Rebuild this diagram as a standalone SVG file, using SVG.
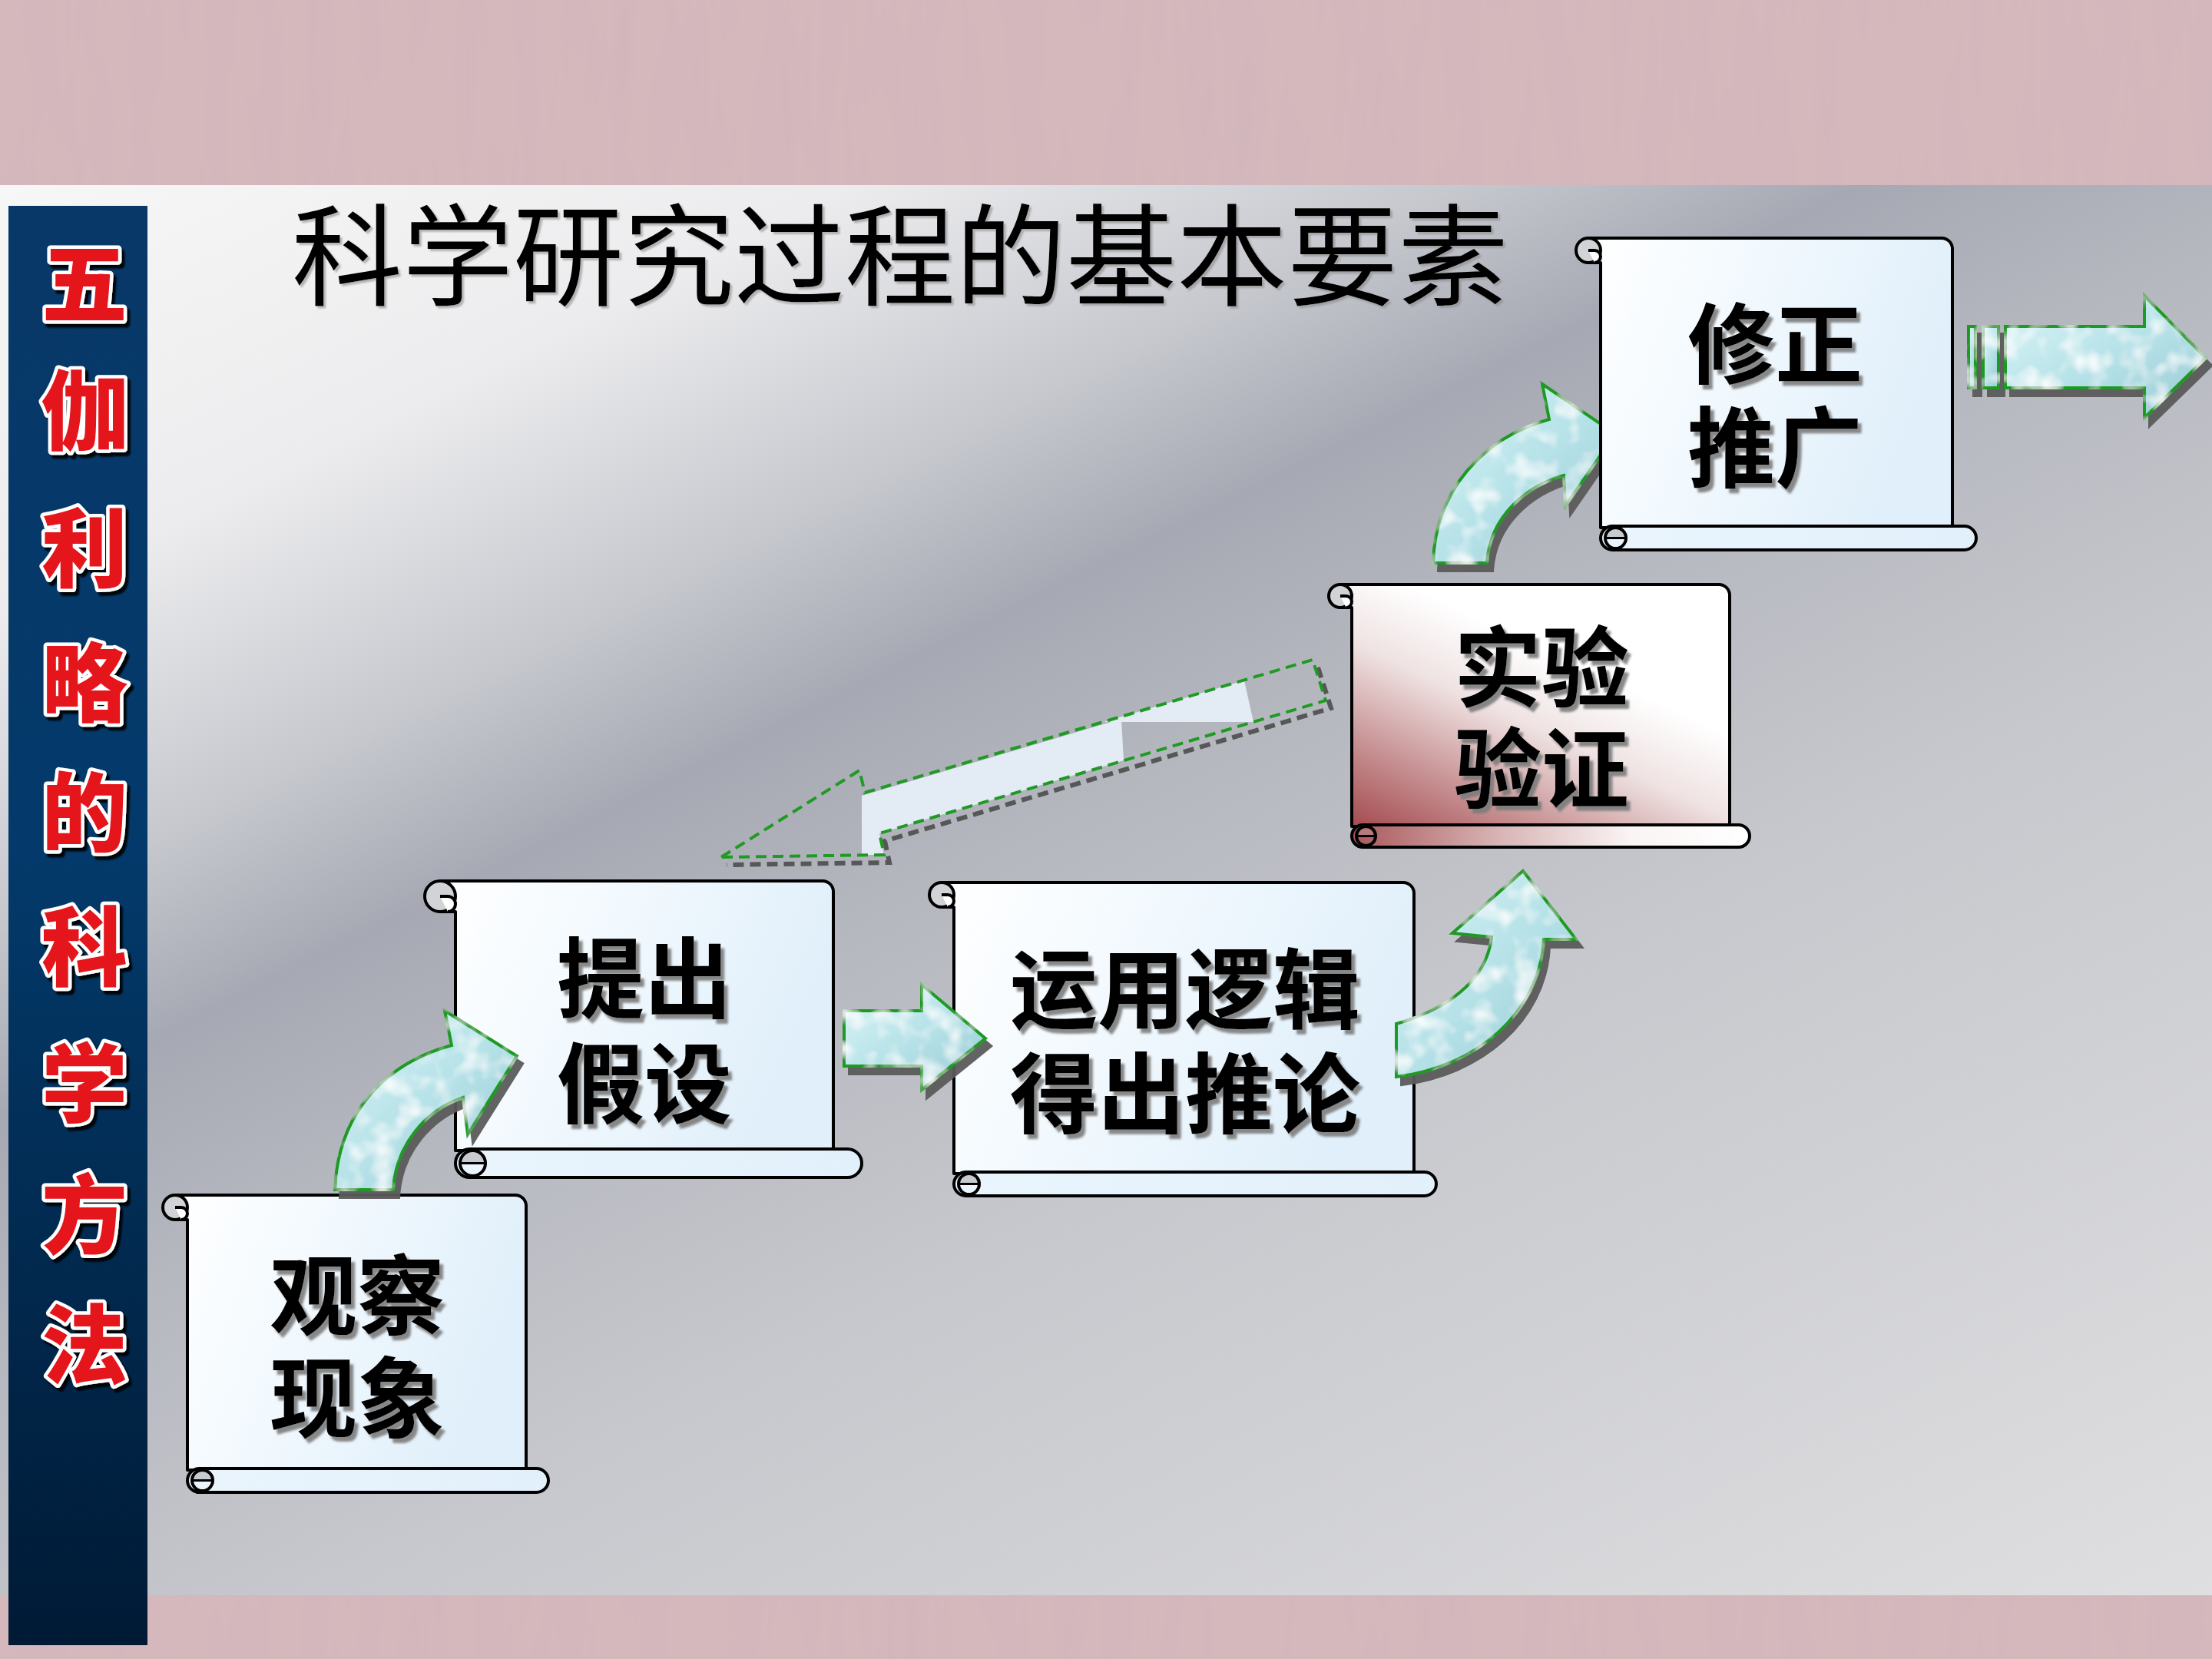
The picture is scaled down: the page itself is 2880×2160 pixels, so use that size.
<svg xmlns="http://www.w3.org/2000/svg" width="2880" height="2160" viewBox="0 0 2880 2160">
<defs>
<style>
.scroll{stroke:#000;stroke-width:4;stroke-linejoin:round}
.curl{fill:#d2d3d6;stroke:#000;stroke-width:4}
.hook{fill:#fff;stroke:#000;stroke-width:4}
.rollcurl{fill:none;stroke:#000;stroke-width:4}
.rollgray{fill:#c7cbd0;stroke:#000;stroke-width:3}
.ntext{font-family:"Noto Sans CJK SC","Noto Sans CJK TC",sans-serif;font-weight:700;font-size:114px;fill:#000;text-anchor:middle;filter:url(#tsh)}
.bartext{font-family:"Noto Sans CJK SC","Noto Sans CJK JP",sans-serif;font-weight:900;font-size:112px;fill:#e4121c;stroke:#fff;stroke-width:9;stroke-linejoin:round;paint-order:stroke;text-anchor:middle;filter:url(#barsh)}
.arr{fill:url(#arrgrad);stroke:#1f9a22;stroke-width:4;stroke-linejoin:miter;filter:url(#arrfx)}
</style>
<linearGradient id="bg" gradientUnits="userSpaceOnUse" x1="0" y1="240" x2="1312" y2="2864">
<stop offset="0" stop-color="#f7f7f7"/>
<stop offset="0.17" stop-color="#ececee"/>
<stop offset="0.29" stop-color="#c6c8ce"/>
<stop offset="0.37" stop-color="#a6a9b3"/>
<stop offset="0.46" stop-color="#b5b7bf"/>
<stop offset="0.62" stop-color="#c7c8cd"/>
<stop offset="1" stop-color="#dfdfe1"/>
</linearGradient>
<linearGradient id="bar" x1="0" y1="0" x2="0" y2="1">
<stop offset="0" stop-color="#083868"/>
<stop offset="0.45" stop-color="#033a6b"/>
<stop offset="1" stop-color="#001a35"/>
</linearGradient>
<linearGradient id="paper" x1="0" y1="0" x2="1" y2="0.3">
<stop offset="0" stop-color="#ffffff"/>
<stop offset="0.45" stop-color="#f2f9fe"/>
<stop offset="1" stop-color="#e0effa"/>
</linearGradient>
<linearGradient id="roll" x1="0" y1="0" x2="1" y2="0">
<stop offset="0" stop-color="#eaf5fd"/>
<stop offset="1" stop-color="#e2f0fb"/>
</linearGradient>
<linearGradient id="redpaper" x1="0" y1="1" x2="0.75" y2="0">
<stop offset="0" stop-color="#a2474b"/>
<stop offset="0.25" stop-color="#c89395"/>
<stop offset="0.5" stop-color="#efe2e2"/>
<stop offset="0.72" stop-color="#ffffff"/>
<stop offset="1" stop-color="#ffffff"/>
</linearGradient>
<linearGradient id="redroll" x1="0" y1="0" x2="1" y2="0">
<stop offset="0" stop-color="#a9585b"/>
<stop offset="0.35" stop-color="#d6b0b1"/>
<stop offset="0.7" stop-color="#faf4f4"/>
<stop offset="1" stop-color="#ffffff"/>
</linearGradient>
<linearGradient id="arrgrad" x1="0" y1="0" x2="1" y2="1">
<stop offset="0" stop-color="#dcf5f8"/>
<stop offset="0.5" stop-color="#b6e2e8"/>
<stop offset="1" stop-color="#9bcbd6"/>
</linearGradient>
<filter id="tsh" x="-10%" y="-20%" width="130%" height="150%">
<feDropShadow dx="5" dy="6" stdDeviation="1.5" flood-color="#7c7c7c" flood-opacity="0.9"/>
</filter>
<filter id="titlesh" x="-5%" y="-20%" width="110%" height="150%">
<feDropShadow dx="3" dy="3" stdDeviation="1" flood-color="#8a8a8a" flood-opacity="0.6"/>
</filter>
<filter id="barsh" x="-20%" y="-20%" width="150%" height="150%">
<feDropShadow dx="4" dy="5" stdDeviation="1.2" flood-color="#000" flood-opacity="0.9"/>
</filter>
<filter id="arrfx" x="-10%" y="-10%" width="130%" height="140%">
<feOffset in="SourceAlpha" dx="7" dy="10" result="o"/>
<feFlood flood-color="#5a5a5a" flood-opacity="0.95"/>
<feComposite in2="o" operator="in" result="sh"/>
<feTurbulence type="fractalNoise" baseFrequency="0.035" numOctaves="2" seed="4" result="n"/>
<feColorMatrix in="n" type="matrix" values="0 0 0 0 1  0 0 0 0 1  0 0 0 0 1  0 0 0 2.2 -1.0" result="w"/>
<feComposite in="w" in2="SourceAlpha" operator="in" result="wt"/>
<feMerge><feMergeNode in="sh"/><feMergeNode in="SourceGraphic"/><feMergeNode in="wt"/></feMerge>
</filter>
<filter id="grain" x="0" y="0" width="100%" height="100%">
<feTurbulence type="fractalNoise" baseFrequency="0.03 0.004" numOctaves="3" seed="9"/>
<feColorMatrix type="matrix" values="0 0 0 0 0.6  0 0 0 0 0.45  0 0 0 0 0.5  0.8 0 0 0 -0.3"/>
</filter>
</defs>

<!-- background -->
<rect x="0" y="0" width="2880" height="2160" fill="#d5b8bc"/>
<rect x="0" y="0" width="2880" height="241" filter="url(#grain)"/>
<rect x="0" y="2077" width="2880" height="83" filter="url(#grain)"/>
<rect x="0" y="241" width="2880" height="1836" fill="url(#bg)"/>

<!-- left bar -->
<g id="sidebar">
<rect x="11" y="268" width="181" height="1874" fill="url(#bar)"/>
<text class="bartext" x="110" y="411">五</text>
<text class="bartext" x="110" y="577">伽</text>
<text class="bartext" x="110" y="756">利</text>
<text class="bartext" x="110" y="931">略</text>
<text class="bartext" x="110" y="1100">的</text>
<text class="bartext" x="110" y="1275">科</text>
<text class="bartext" x="110" y="1453">学</text>
<text class="bartext" x="110" y="1624">方</text>
<text class="bartext" x="110" y="1793">法</text>
</g>

<g id="title">
<text x="380" y="387" font-family="Noto Sans CJK SC, Noto Sans CJK TC, sans-serif" font-size="144" font-weight="400" fill="#000" filter="url(#titlesh)">科学研究过程的基本要素</text>
</g>

<!-- node 1 -->
<g id="node-observe">
<path class="scroll" fill="url(#paper)" d="M 228 1556 H 671 A 14 14 0 0 1 685 1570 V 1914 H 244 V 1588 H 228 Z"/>
<circle class="curl" cx="228" cy="1572" r="16"/>
<path class="hook" d="M 228 1572 H 236 A 8 8 0 0 1 236 1588"/>
<rect class="scroll" fill="url(#roll)" x="244" y="1912" width="470" height="31" rx="15.5"/>
<path class="rollgray" d="M 250 1927.5 A 13.5 13.5 0 0 1 277 1927.5 Z"/>
<circle class="rollcurl" cx="263.5" cy="1927.5" r="13.5"/>
<text class="ntext" x="465" y="1729">观察<tspan x="465" dy="133">现象</tspan></text>
</g>

<!-- node 2 -->
<g id="node-hypothesis">
<path class="scroll" fill="url(#paper)" d="M 573 1147 H 1071 A 14 14 0 0 1 1085 1161 V 1498 H 593 V 1187 H 573 Z"/>
<circle class="curl" cx="573" cy="1167" r="20"/>
<path class="hook" d="M 573 1167 H 583 A 10 10 0 0 1 583 1187"/>
<rect class="scroll" fill="url(#roll)" x="593" y="1496" width="529" height="37" rx="18.5"/>
<path class="rollgray" d="M 599 1514.5 A 16.5 16.5 0 0 1 632 1514.5 Z"/>
<circle class="rollcurl" cx="615.5" cy="1514.5" r="16.5"/>
<text class="ntext" x="839" y="1316">提出<tspan x="839" dy="137">假设</tspan></text>
</g>

<!-- node 3 -->
<g id="node-deduce">
<path class="scroll" fill="url(#paper)" d="M 1226 1149 H 1827 A 14 14 0 0 1 1841 1163 V 1528 H 1242 V 1181 H 1226 Z"/>
<circle class="curl" cx="1226" cy="1165" r="16"/>
<path class="hook" d="M 1226 1165 H 1234 A 8 8 0 0 1 1234 1181"/>
<rect class="scroll" fill="url(#roll)" x="1242" y="1526" width="628" height="31" rx="15.5"/>
<path class="rollgray" d="M 1248 1541.5 A 13.5 13.5 0 0 1 1275 1541.5 Z"/>
<circle class="rollcurl" cx="1261.5" cy="1541.5" r="13.5"/>
<text class="ntext" x="1543" y="1330">运用逻辑<tspan x="1543" dy="136">得出推论</tspan></text>
</g>

<!-- node 4 -->
<g id="node-experiment">
<path class="scroll" fill="url(#redpaper)" d="M 1745 761 H 2238 A 14 14 0 0 1 2252 775 V 1076 H 1760 V 791 H 1745 Z"/>
<circle class="curl" cx="1745" cy="776" r="15"/>
<path class="hook" d="M 1745 776 H 1752.5 A 7.5 7.5 0 0 1 1752.5 791"/>
<rect class="scroll" fill="url(#redroll)" x="1760" y="1074" width="518" height="29" rx="14.5"/>
<path class="rollgray" style="fill:#b7797b" d="M 1766 1088.5 A 12.5 12.5 0 0 1 1791 1088.5 Z"/>
<circle class="rollcurl" cx="1778.5" cy="1088.5" r="12.5"/>
<text class="ntext" x="2007" y="911">实验<tspan x="2007" dy="132">验证</tspan></text>
</g>

<!-- connectors -->
<g id="connectors">
<path id="c-observe-hypothesis" class="arr" d="M 436 1549 C 440 1450 500 1385 588 1361 L 579 1316 L 673 1375 L 609 1477 L 603 1429 C 555 1445 515 1490 512 1549 Z"/>
<path id="c-hypothesis-deduce" class="arr" d="M 1099 1316 H 1200 V 1282 L 1283 1352 L 1200 1419 V 1388 H 1099 Z"/>
<path id="c-deduce-experiment" class="arr" d="M 1818 1333 C 1880 1315 1935 1280 1942 1220 L 1891 1215 L 1983 1134 L 2052 1223 L 2010 1223 C 2005 1320 1920 1390 1818 1402 Z"/>
<path id="c-experiment-revise" class="arr" d="M 1866 733 C 1868 640 1930 570 2017 546 L 2008 500 L 2103 565 L 2038 659 L 2036 619 C 1990 632 1940 670 1936 733 Z"/>
<g id="c-experiment-hypothesis">
<path fill="none" stroke="#575757" stroke-width="6" stroke-dasharray="14 8" d="M 1716 869 L 1733 922 L 1152 1095 L 1158 1123 L 946 1126"/>
<path fill="#e3ebf5" d="M 1122 1036 L 1460 936 L 1463 990 L 1145 1085 L 1151 1113 L 1122 1113 Z"/>
<path fill="#e3ebf5" d="M 1437 940 L 1620 886 L 1632 940 Z"/>
<path fill="none" stroke="#1f9a22" stroke-width="4" stroke-dasharray="14 8" d="M 939 1116 L 1119 1003 L 1126 1032 L 1709 859 L 1726 912 L 1145 1085 L 1151 1113 Z"/>
</g>
<g id="c-revise-out" filter="url(#arrfx)">
<rect x="2563" y="425" width="9" height="80" fill="url(#arrgrad)" stroke="#1f9a22" stroke-width="4"/>
<rect x="2582" y="425" width="20" height="80" fill="url(#arrgrad)" stroke="#1f9a22" stroke-width="4"/>
<path fill="url(#arrgrad)" stroke="#1f9a22" stroke-width="4" d="M 2611 425 H 2792 V 385 L 2872 466 L 2792 544 V 505 H 2611 Z"/>
</g>
</g>

<!-- node 5 -->
<g id="node-revise">
<path class="scroll" fill="url(#paper)" d="M 2068 310 H 2528 A 14 14 0 0 1 2542 324 V 687 H 2084 V 342 H 2068 Z"/>
<circle class="curl" cx="2068" cy="326" r="16"/>
<path class="hook" d="M 2068 326 H 2076 A 8 8 0 0 1 2076 342"/>
<rect class="scroll" fill="url(#roll)" x="2084" y="685" width="489" height="31" rx="15.5"/>
<path class="rollgray" d="M 2090 700.5 A 13.5 13.5 0 0 1 2117 700.5 Z"/>
<circle class="rollcurl" cx="2103.5" cy="700.5" r="13.5"/>
<text class="ntext" x="2311" y="490">修正<tspan x="2311" dy="135">推广</tspan></text>
</g>
</svg>
